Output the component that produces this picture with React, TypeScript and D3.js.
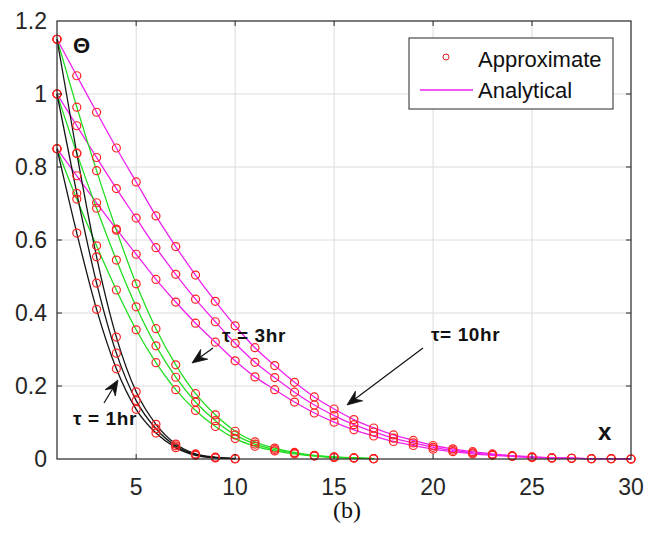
import React from 'react';
import * as d3 from 'd3';

// x positions (integer nodes)
const xNodes = [1, 2, 3, 4, 5, 6, 7, 8, 9, 10, 11, 12, 13, 14, 15, 16, 17, 18, 19, 20, 21, 22, 23, 24, 25, 26, 27, 28, 29, 30];

// tau = 1hr (black)
const t1_a = [1.15, 0.837, 0.554, 0.334, 0.184, 0.095, 0.041, 0.014, 0.005, 0.001];
const t1_b = [1.0, 0.728, 0.482, 0.29, 0.16, 0.083, 0.036, 0.012, 0.004, 0.001];
const t1_c = [0.85, 0.619, 0.41, 0.247, 0.136, 0.071, 0.031, 0.01, 0.003, 0.001];

// tau = 3hr (green)
const t3_a = [1.15, 0.964, 0.79, 0.627, 0.48, 0.357, 0.258, 0.179, 0.121, 0.076, 0.047, 0.03, 0.018, 0.01, 0.006, 0.003, 0.001];
const t3_b = [1.0, 0.838, 0.687, 0.545, 0.417, 0.31, 0.224, 0.156, 0.105, 0.066, 0.041, 0.026, 0.016, 0.009, 0.005, 0.003, 0.001];
const t3_c = [0.85, 0.712, 0.584, 0.463, 0.354, 0.264, 0.19, 0.133, 0.089, 0.056, 0.035, 0.022, 0.014, 0.008, 0.004, 0.003, 0.001];

// tau = 10hr (magenta)
const t10_a = [1.15, 1.05, 0.95, 0.852, 0.759, 0.666, 0.582, 0.504, 0.432, 0.365, 0.305, 0.256, 0.21, 0.17, 0.137, 0.108, 0.085, 0.066, 0.051, 0.037, 0.028, 0.02, 0.014, 0.009, 0.006, 0.003, 0.002, 0.001, 0.001, 0];
const t10_b = [1.0, 0.913, 0.826, 0.741, 0.66, 0.579, 0.506, 0.438, 0.376, 0.317, 0.265, 0.223, 0.183, 0.148, 0.119, 0.094, 0.074, 0.057, 0.044, 0.032, 0.024, 0.017, 0.012, 0.008, 0.005, 0.003, 0.002, 0.001, 0.001, 0];
const t10_c = [0.85, 0.776, 0.702, 0.63, 0.561, 0.492, 0.43, 0.372, 0.32, 0.269, 0.225, 0.19, 0.156, 0.126, 0.101, 0.08, 0.063, 0.048, 0.037, 0.027, 0.02, 0.014, 0.01, 0.007, 0.004, 0.003, 0.002, 0.001, 0.001, 0];

const xTicks = [5, 10, 15, 20, 25, 30];
const yTicks = [0, 0.2, 0.4, 0.6, 0.8, 1, 1.2];
const yTickLabels = ['0', '0.2', '0.4', '0.6', '0.8', '1', '1.2'];

const W = 653;
const H = 535;
const left = 57, right = 631, top = 21, bottom = 459;

const FONT = '"Liberation Sans", Arial, Helvetica, sans-serif';

const series = [
  { color: '#ee22ee', values: t10_a },
  { color: '#ee22ee', values: t10_b },
  { color: '#ee22ee', values: t10_c },
  { color: '#22dd22', values: t3_a },
  { color: '#22dd22', values: t3_b },
  { color: '#22dd22', values: t3_c },
  { color: '#151515', values: t1_a },
  { color: '#151515', values: t1_b },
  { color: '#151515', values: t1_c },
];

// arrow with a swept-back head, tail -> tip
function arrowPaths(x1: number, y1: number, x2: number, y2: number) {
  const dx = x2 - x1, dy = y2 - y1;
  const len = Math.sqrt(dx * dx + dy * dy);
  const ux = dx / len, uy = dy / len;
  const nx = -uy, ny = ux;
  const L = 15, Wd = 6, B = 5;
  const bx = x2 - ux * L, by = y2 - uy * L;
  const head = `M${x2},${y2} L${bx + nx * Wd},${by + ny * Wd} L${x2 - ux * (L - B)},${y2 - uy * (L - B)} L${bx - nx * Wd},${by - ny * Wd} Z`;
  const shaft = `M${x1},${y1} L${x2 - ux * (L - B)},${y2 - uy * (L - B)}`;
  return { head, shaft };
}

const App = () => {
  const x = d3.scaleLinear().domain([1, 30]).range([left, right]);
  const y = d3.scaleLinear().domain([0, 1.2]).range([bottom, top]);

  const line = d3.line<number>()
    .x((_, i) => x(xNodes[i]))
    .y(d => y(d))
    .curve(d3.curveMonotoneX);

  const arrows = [
    arrowPaths(104, 403, 118, 380),
    arrowPaths(213, 348, 192, 363),
    arrowPaths(423, 348, 347, 405),
  ];

  return (
    <svg width={W} height={H} style={{ position: 'absolute', left: 0, top: 0, background: '#fff' }}>
      <rect x={0} y={0} width={W} height={H} fill="#fff" />
      {/* grid */}
      <g stroke="#dcdcdc" strokeWidth={1}>
        {xTicks.filter(t => t < 30).map(t => (
          <line key={'gx' + t} x1={x(t)} x2={x(t)} y1={top} y2={bottom} />
        ))}
        {yTicks.filter(t => t > 0 && t < 1.2).map(t => (
          <line key={'gy' + t} x1={left} x2={right} y1={y(t)} y2={y(t)} />
        ))}
      </g>

      {/* curves */}
      <g fill="none" strokeWidth={1.3}>
        {series.map((s, i) => (
          <path key={'l' + i} d={line(s.values) || ''} stroke={s.color} />
        ))}
      </g>
      <g fill="none" stroke="#ff2020" strokeWidth={1.2}>
        {series.map((s, i) => s.values.map((v, j) => (
          <circle key={'c' + i + '-' + j} cx={x(xNodes[j])} cy={y(v)} r={4} />
        )))}
      </g>

      {/* axes box + ticks */}
      <rect x={left} y={top} width={right - left} height={bottom - top} fill="none" stroke="#262626" strokeWidth={1.2} />
      <g stroke="#262626" strokeWidth={1}>
        {xTicks.filter(t => t < 30).map(t => (
          <g key={'tx' + t}>
            <line x1={x(t)} x2={x(t)} y1={bottom} y2={bottom - 5} />
            <line x1={x(t)} x2={x(t)} y1={top} y2={top + 5} />
          </g>
        ))}
        {yTicks.filter(t => t > 0 && t < 1.2).map(t => (
          <g key={'ty' + t}>
            <line x1={left} x2={left + 5} y1={y(t)} y2={y(t)} />
            <line x1={right} x2={right - 5} y1={y(t)} y2={y(t)} />
          </g>
        ))}
      </g>

      {/* tick labels */}
      <g fontFamily={FONT} fontSize={23} fill="#262626">
        {xTicks.map(t => (
          <text key={'lx' + t} x={x(t)} y={495} textAnchor="middle">{t}</text>
        ))}
        {yTicks.map((t, i) => (
          <text key={'ly' + t} x={47} y={y(t)} dy="0.35em" textAnchor="end">{yTickLabels[i]}</text>
        ))}
      </g>

      {/* axis letters */}
      <text x={73} y={53} fontFamily={FONT} fontSize={22} fontWeight="bold" fill="#111">Θ</text>
      <text x={598} y={440} fontFamily={FONT} fontSize={24} fontWeight="bold" fill="#111">x</text>

      {/* annotations */}
      <g fontFamily={FONT} fontSize={19} fontWeight="bold" fill="#111" letterSpacing={0.6}>
        <text x={73} y={425}>τ = 1hr</text>
        <text x={222} y={342}>τ = 3hr</text>
        <text x={431} y={341}>τ= 10hr</text>
      </g>
      <g>
        {arrows.map((a, i) => (
          <g key={'a' + i}>
            <path d={a.shaft} stroke="#111" strokeWidth={1.2} fill="none" />
            <path d={a.head} fill="#111" stroke="#111" strokeWidth={0.8} />
          </g>
        ))}
      </g>

      {/* legend */}
      <rect x={409} y={38} width={204} height={71} fill="#fff" stroke="#262626" strokeWidth={1} />
      <circle cx={446} cy={57} r={3} fill="none" stroke="#e02020" strokeWidth={1} />
      <line x1={420} x2={473} y1={90} y2={90} stroke="#ee22ee" strokeWidth={1.3} />
      <g fontFamily={FONT} fontSize={22} fill="#111">
        <text x={478} y={67}>Approximate</text>
        <text x={478} y={98}>Analytical</text>
      </g>

      {/* caption */}
      <text x={347} y={518} textAnchor="middle" fontFamily='"Liberation Serif", "Times New Roman", serif' fontSize={24} fill="#111">(b)</text>
    </svg>
  );
};

export default App;
